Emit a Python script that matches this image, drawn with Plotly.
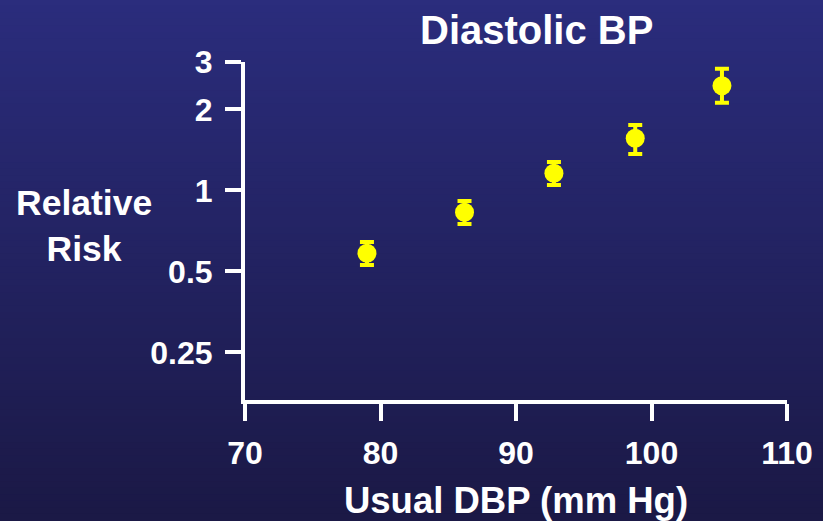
import plotly.graph_objects as go
import numpy as np

# Data
dbp = [79.0, 86.2, 92.8, 98.8, 105.2]
rr = [0.584, 0.829, 1.157, 1.562, 2.449]
rr_hi = [0.643, 0.913, 1.275, 1.75, 2.833]
rr_lo = [0.528, 0.75, 1.047, 1.365, 2.118]

x_ticks = [70, 80, 90, 100, 110]
y_ticks = [0.25, 0.5, 1, 2, 3]
y_ticklabels = ["0.25", "0.5", "1", "2", "3"]

err_plus = [h - v for h, v in zip(rr_hi, rr)]
err_minus = [v - l for v, l in zip(rr, rr_lo)]

W, H = 823, 521
L, R, T, B = 245, 36, 62, 121
PW, PH = W - L - R, H - T - B

fig = go.Figure()

fig.add_trace(go.Scatter(
    x=dbp, y=rr, mode="markers",
    marker=dict(symbol="circle", size=19, color="#ffff00", line=dict(width=0)),
    error_y=dict(type="data", symmetric=False, array=err_plus, arrayminus=err_minus,
                 color="#ffff00", thickness=4, width=7),
    showlegend=False, cliponaxis=False, hoverinfo="skip",
))

# gradient background bands
top = np.array([43, 45, 125])
bot = np.array([27, 25, 70])
n = 80
shapes = []
for i in range(n):
    t = i / (n - 1)
    c = top + (bot - top) * t
    y1 = 1 + T / PH - i * (H / PH) / n
    y0 = 1 + T / PH - (i + 1) * (H / PH) / n
    if i == n - 1:
        y0 -= 0.1
    if i == 0:
        y1 += 0.1
    shapes.append(dict(type="rect", xref="paper", yref="paper",
                       x0=-L / PW - 0.1, x1=1 + R / PW + 0.1,
                       y0=y0 - 0.002, y1=y1 + 0.002,
                       fillcolor="rgb(%d,%d,%d)" % tuple(c.astype(int)),
                       line=dict(width=0), layer="below"))

font = "Liberation Sans, Arial, sans-serif"

fig.update_layout(
    width=W, height=H,
    margin=dict(l=L, r=R, t=T, b=B, autoexpand=False),
    paper_bgcolor="rgb(27,25,70)", plot_bgcolor="rgba(0,0,0,0)",
    shapes=shapes,
    xaxis=dict(range=[70, 110], tickvals=x_ticks, ticks="outside", ticklen=17,
               tickwidth=4, tickcolor="white", showline=True, linewidth=4,
               linecolor="white", showgrid=False, zeroline=False,
               ticklabelstandoff=5, automargin=False,
               tickfont=dict(family=font, size=32, color="white", weight="bold"),
               title=dict(text="Usual DBP (mm Hg)", standoff=20,
                          font=dict(family=font, size=36.5, color="white", weight="bold"))),
    yaxis=dict(type="log", range=[np.log10(0.1663), np.log10(3)], tickvals=y_ticks,
               ticktext=y_ticklabels, ticks="outside", ticklen=16, tickwidth=4,
               tickcolor="white", showline=True, linewidth=4, linecolor="white",
               showgrid=False, zeroline=False, ticklabelstandoff=6, automargin=False,
               tickfont=dict(family=font, size=32, color="white", weight="bold")),
    annotations=[
        dict(text="<b>Diastolic BP</b>", xref="paper", yref="paper",
             x=(536 - L) / PW, y=1 + (T - 30) / PH,
             xanchor="center", yanchor="middle", showarrow=False,
             font=dict(family=font, size=40, color="white")),
        dict(text="<b>Relative<br>Risk</b>", xref="paper", yref="paper",
             x=(84 - L) / PW, y=(H - B - 226) / PH,
             xanchor="center", yanchor="middle", showarrow=False, align="center",
             font=dict(family=font, size=35.5, color="white")),
    ],
)

fig.write_html("out.html", config={"displayModeBar": False},
               post_script="document.body.style.margin='0';document.body.style.padding='0';")
